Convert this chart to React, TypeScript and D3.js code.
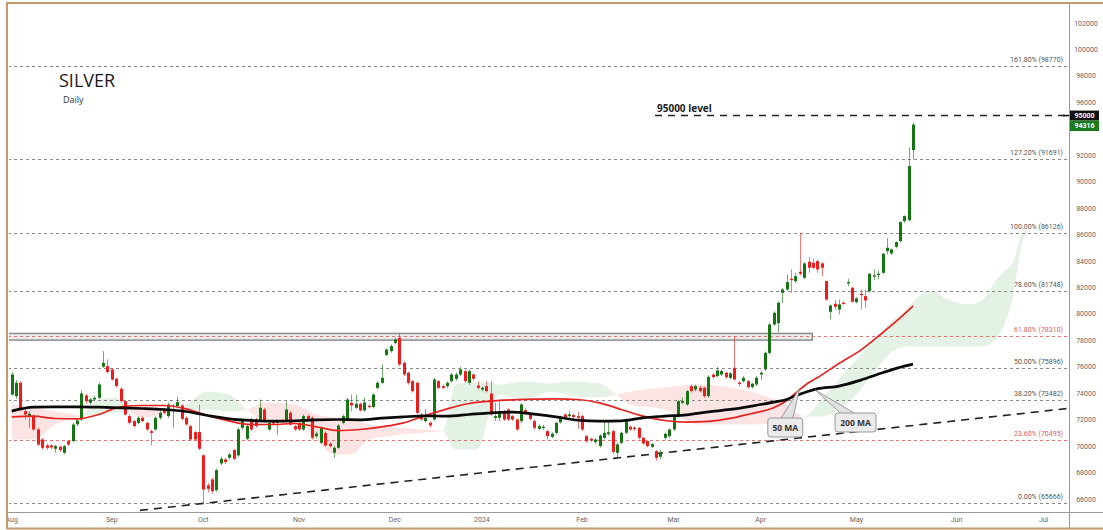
import React from "react";
import * as d3 from "d3";

const W = 1103;
const H = 530;

// ---------- OHLC (daily, MCX silver) ----------
const opens = [
73905,73780,74787,72640,72280,72270,71260,70500,70050,70050,69800,69950,69500,70380,70380,71650,72017,73830,73277,73530,
73650,76000,76050,75800,75090,74340,73400,72270,71890,71760,72140,71760,71130,71260,72140,72770,72270,72980,73020,73070,
72140,71510,71060,71060,69300,67030,67480,66670,68690,68990,69120,69700,69300,71390,70550,72017,72017,71890,72770,71260,
71810,71760,71940,71890,72520,71510,71760,71260,72270,72140,70750,70250,71000,70180,69500,69870,71760,72014,73275,72900,
73200,72700,73050,72950,74400,74790,76900,77180,77812,78190,76300,75544,74913,74787,72392,71888,71762,72014,74913,74535,
74535,74913,75090,75418,75670,74787,75418,74590,74283,74535,73980,72140,72140,72644,72770,72266,72014,71888,72720,72440,
71888,71310,71380,71132,70700,71006,71800,72392,72266,72350,72266,72266,70754,70550,70300,69997,70628,70900,71132,69493,
70249,71006,71460,71400,71384,70628,70375,69950,69619,69200,70628,70754,71258,72266,73275,73148,74535,74283,74409,74409,
73779,75418,75290,75418,75545,75165,75926,74800,74913,74913,74460,74661,75418,75800,77050,79200,79300,81597,81849,82655,
82479,83185,82731,83941,83866,83992,83815,82479,80160,80765,80336,80840,82302,81975,80891,81521,81344,81723,82857,82933,
83109,84748,84571,85076,85504,87017,87092,92386];
const highs = [
75600,75000,74900,72800,72640,72400,71400,70600,70200,70150,70100,70050,70100,70450,71750,72050,74200,73950,73650,73800,
74800,77180,76550,75900,75200,74450,73500,72400,72000,72250,72250,71850,71250,72250,72650,72900,73300,73200,73730,73200,
72250,71600,71150,73150,69400,67200,67600,68300,69200,69100,69500,69800,71400,72000,71650,72150,72150,73530,72900,71900,
71950,72000,72050,73400,72650,71600,71850,72400,72400,72250,71100,71500,71100,70300,70000,71650,72400,73650,73905,73900,
73300,73650,73150,74000,74900,76170,77400,77700,78190,78520,76400,75650,75000,74900,72500,72820,71850,75150,75000,74650,
74900,75550,75550,75990,75800,75800,75500,74900,74500,74900,74913,73275,73400,72750,72850,72350,72100,73250,72850,72550,
72000,71650,71600,71250,71050,71850,72300,72500,72644,72450,72600,72350,70850,70650,70600,70900,71900,71900,71250,70250,
71100,72100,71550,71500,71450,70700,70450,70250,69700,69700,71000,71350,72350,73500,73700,74250,74650,74650,74550,74500,
75350,75500,75990,75800,75650,75600,78317,74900,75300,75000,74800,75300,75670,77150,79300,80200,80950,81975,82984,83361,
83109,86134,83900,84294,84170,84100,83900,82500,80700,81040,81092,80950,82655,82050,81250,81849,81849,83100,83361,83235,
84600,85756,84950,85500,87000,87450,92590,94454];
const lows = [
73800,73600,72650,72017,71380,71150,70000,69750,69700,69750,69500,69550,69400,70000,70300,71500,71900,73200,73150,73400,
73550,75900,75500,74950,74450,73300,72300,71650,71400,71650,71800,71150,70050,71150,72000,72400,72150,71390,72900,71950,
71550,70400,70400,69700,65717,66500,66400,66550,68550,68650,69000,68950,69200,71250,70450,71150,71400,71800,71850,71150,
71600,70880,71750,71800,71550,71150,71150,71150,71900,70500,70600,70150,69950,69900,69115,69800,71650,71900,72644,72800,
72600,72600,72850,72850,74300,74700,76800,77050,77700,76050,75300,74650,74050,72400,71900,71800,71400,71900,74300,74300,
74400,74800,74950,75300,74800,74650,74950,74300,74150,74050,72300,71900,71888,71900,71900,71900,71150,71750,72400,71950,
71250,71200,71250,70500,70600,70900,71700,72100,72150,72100,71300,71150,70250,70300,70150,69900,70500,70800,69400,69115,
70150,70900,71150,71150,70500,70100,69900,69850,68900,69000,70500,70650,71150,72150,73150,73050,74050,74150,74050,73650,
73650,75100,75200,75300,75100,75050,74950,74500,74800,74350,74350,74550,75000,75700,76950,79100,78600,80840,81750,81597,
82350,82900,82650,83109,83400,83109,82857,81000,79580,80336,79958,80700,82100,80850,80800,80336,80462,81600,82555,82605,
83000,84496,84450,84950,85400,86900,87000,91681];
const closes = [
75418,74787,72770,72390,72450,71260,70123,69870,69870,69900,70000,69700,70000,70125,71636,71940,73980,73400,73530,73650,
74660,76300,75600,75040,74540,73400,72390,71760,71510,72140,71890,71260,71000,72140,72520,72520,73150,73050,73330,72060,
71640,70500,70500,69800,66720,66770,66600,68180,69040,68790,69370,69040,71260,71890,71510,71260,71510,72900,71960,71760,
71710,71890,71840,72770,71640,71260,71260,72270,72017,70630,70950,71390,70050,70000,69870,71560,72266,73527,73075,73200,
72700,73300,72950,73900,74790,75170,77300,77560,78064,76174,75418,74787,74157,72518,72014,72140,71560,75040,74409,74409,
74787,75418,75418,75795,74913,75670,75100,74409,74409,74157,72392,72266,72600,72014,72014,72014,71258,73148,72518,72060,
71384,71510,71460,70754,70930,71762,72190,72190,72392,72200,72140,71258,70375,70450,70500,70800,71006,71050,69560,70123,
71006,72040,71258,71280,70628,70200,69997,70150,69115,69550,70930,71258,72266,73400,73400,74157,74157,74535,74157,73779,
75240,75220,75720,75670,75220,75500,75040,74700,75165,74460,74710,75165,75545,77056,79200,80084,80840,81849,82403,82555,
82857,83034,83815,83488,83488,83361,83488,81092,80639,80538,80714,80765,82403,80916,81168,81420,81017,83034,82908,83034,
84546,85000,84874,85429,86941,87395,91176,94316];

// ---------- moving averages (bar index, value) ----------
const ma50Points: [number, number][] = [
[0,72216],[5,72266],[10,72090],[15,72065],[20,72392],[25,72972],[30,73073],[35,73073],[40,72820],[45,72316],
[50,71888],[55,71636],[60,71636],[65,71712],[70,71460],[75,71170],[80,71258],[85,71460],[90,71762],[95,72316],
[100,72820],[105,73224],[110,73400],[115,73500],[120,73552],[125,73577],[130,73527],[135,73275],[140,72770],[145,72266],
[150,71939],[155,71813],[160,71870],[165,72092],[170,72470],[175,72898],[178,73450],[180,74000],[183,74788],[185,75167],
[190,76251],[195,77259],[200,78574],[205,79982],[207,80600]];
const ma200Points: [number, number][] = [
[0,72644],[5,72947],[10,72972],[15,72972],[20,72947],[25,72896],[30,72846],[35,72770],[40,72619],[45,72316],
[50,72064],[55,71939],[60,71888],[65,71913],[70,71990],[75,72014],[80,71990],[85,72115],[90,72216],[95,72291],
[100,72266],[105,72392],[110,72518],[115,72569],[120,72417],[125,72216],[130,71964],[135,71888],[140,71913],[145,72140],
[150,72266],[155,72367],[160,72590],[165,72772],[170,73024],[175,73326],[178,73528],[180,73800],[183,74150],[185,74330],
[190,74540],[195,74990],[200,75544],[205,76048],[207,76200]];

// ---------- Ichimoku cloud ----------
const cloudIdx = [0,5,10,13,16,20,24,27,30,35,40,45,50,54,58,65,70,74,78,82,88,95,99,102,107,110,112,118,124,128,135,139,142,150,158,165,172,178,182,186,190,194,198,202,205,208,211,215,220,223,226,228,230,232,233];
const spanA = [70500,70500,71636,72014,72300,73526,73677,72650,72165,72467,73148,74131,73904,72770,72014,72014,70500,69366,69366,70500,70803,71030,71100,74661,74812,74812,74661,74888,74736,74888,74736,73900,73148,72770,71636,71636,71636,72014,72250,73526,75039,76552,77913,79426,80182,81241,81771,81090,80712,81090,82527,83208,83965,86007,86385];
const spanB = [73148,72921,72619,72467,72320,72392,72543,72620,72921,72770,72770,72770,72619,72750,73299,73148,72392,72165,72014,71636,71408,71257,71120,69744,69744,72770,73904,73526,74131,73829,73677,73920,74131,74434,74661,74434,73904,73148,72240,72241,72770,73904,75569,77081,77535,77535,77535,77535,77535,77535,78064,79199,81317,85250,86007];

// ---------- levels ----------
const fibPct = ["161.80%", "127.20%", "100.00%", "78.60%", "61.80%", "50.00%", "38.20%", "23.60%", "0.00%"];
const fibPrice = [98770, 91691, 86126, 81748, 78310, 75896, 73482, 70495, 65666];
const fibRed = [false, false, false, false, true, false, false, true, false];
const zoneLow = 78020;
const zoneHigh = 78520;
const level95 = 95000;
const lastPrice = 94316;
const trendA: [number, number] = [44, 65666];
const trendB: [number, number] = [148, 69427];

// 94000 is hidden behind the price tags in the reference
const yTickValues = [66000, 68000, 70000, 72000, 74000, 76000, 78000, 80000, 82000, 84000, 86000, 88000, 90000, 92000, 96000, 98000, 100000, 102000];
const xTickMonths = ["2023-08", "2023-09", "2023-10", "2023-11", "2023-12", "2024-01", "2024-02", "2024-03", "2024-04", "2024-05", "2024-06", "2024-07"];
const xTickLabels = ["Aug", "Sep", "Oct", "Nov", "Dec", "2024", "Feb", "Mar", "Apr", "May", "Jun", "Jul"];
const holidays = ["2023-12-25", "2024-03-29"];

function tradingDays(count: number): string[] {
  const out: string[] = [];
  const d = new Date(Date.UTC(2023, 7, 1));
  while (out.length < count) {
    const wd = d.getUTCDay();
    const key = d.toISOString().slice(0, 10);
    if (wd !== 0 && wd !== 6 && !holidays.includes(key)) out.push(key);
    d.setUTCDate(d.getUTCDate() + 1);
  }
  return out;
}

const FONT = "Roboto, 'Liberation Sans', Arial, sans-serif";
const GREEN = "#137613";
const RED = "#f01c1c";

export default function App() {
  const plotL = 8, plotR = 1069, plotT = 4, plotB = 512;
  const x = d3.scaleLinear().domain([0, 207]).range([11.7, 913]);
  const y = d3.scaleLinear().domain([66000, 102000]).range([499, 23]);

  const days = tradingDays(250);
  const xTicks = xTickMonths.map((m, k) => ({ label: xTickLabels[k], i: days.findIndex((d) => d.startsWith(m)) }));

  const cloudPts = cloudIdx.map((i, k) => ({ i, a: spanA[k], b: spanB[k] }));
  const greenArea = d3.area<any>().x((d) => x(d.i)).y0((d) => y(d.b)).y1((d) => y(Math.max(d.a, d.b))).curve(d3.curveMonotoneX);
  const redArea = d3.area<any>().x((d) => x(d.i)).y0((d) => y(d.a)).y1((d) => y(Math.max(d.a, d.b))).curve(d3.curveMonotoneX);

  const maLine = d3.line<[number, number]>().x((d) => x(d[0])).y((d) => y(d[1])).curve(d3.curveMonotoneX);

  const slope = (trendB[1] - trendA[1]) / (trendB[0] - trendA[0]);
  const tI0 = x.invert(140), tI1 = x.invert(plotR);
  const tp = (i: number) => trendA[1] + slope * (i - trendA[0]);

  const bodyW = 3;

  // annotation anchors (bar index, price)
  const a50 = { x: x(181), y: y(74400) };
  const a200 = { x: x(184.5), y: y(74250) };
  const b50Top = y(72127);
  const b200Top = y(72505);

  return (
    <svg width={W} height={H} style={{ position: "absolute", left: 0, top: 0, background: "#fff" }} fontFamily={FONT}>
      <defs>
        <clipPath id="plot">
          <rect x={plotL + 1} y={plotT + 1} width={plotR - plotL - 1} height={plotB - plotT - 1} />
        </clipPath>
      </defs>
      <rect x={0} y={0} width={W} height={H} fill="#fff" />
      <g clipPath="url(#plot)">
        {/* cloud */}
        <path d={greenArea(cloudPts) || ""} fill="#e3f2e4" />
        <path d={redArea(cloudPts) || ""} fill="#fce4e4" />

        {/* resistance zone */}
        <rect x={plotL} y={y(zoneHigh)} width={x(181) + 0.5 - plotL + 12} height={y(zoneLow) - y(zoneHigh)} fill="rgba(200,200,200,0.35)" stroke="#8c8c8c" strokeWidth={1.5} />

        {/* fib lines */}
        {fibPrice.map((p, k) => (
          <line key={"f" + k} x1={plotL} x2={plotR} y1={Math.round(y(p)) + 0.5} y2={Math.round(y(p)) + 0.5}
            stroke={fibRed[k] ? "#e57373" : "#8a8a8a"} strokeWidth={1} strokeDasharray="3,3" />
        ))}

        {/* 95000 level */}
        <line x1={655} x2={plotR} y1={y(level95)} y2={y(level95)} stroke="#222" strokeWidth={1.5} strokeDasharray="7,6" />

        {/* trendline */}
        <line x1={x(tI0)} y1={y(tp(tI0))} x2={x(tI1)} y2={y(tp(tI1))} stroke="#222" strokeWidth={1.6} strokeDasharray="8,6" />

        {/* candles */}
        {closes.map((c, i) => {
          const o = opens[i];
          const up = c >= o;
          const col = up ? GREEN : RED;
          const cx = Math.round(x(i));
          const top = y(Math.max(o, c));
          const bot = y(Math.min(o, c));
          return (
            <g key={"c" + i}>
              <rect x={cx} y={y(highs[i])} width={1} height={Math.max(1, y(lows[i]) - y(highs[i]))} fill={col} opacity={0.6} />
              <rect x={cx - 1} y={top} width={bodyW} height={Math.max(1.2, bot - top)} fill={col} />
            </g>
          );
        })}

        {/* moving averages */}
        <path d={maLine(ma50Points) || ""} fill="none" stroke="#e8221e" strokeWidth={1.7} />
        <path d={maLine(ma200Points) || ""} fill="none" stroke="#0a0a0a" strokeWidth={2.7} />
      </g>

      {/* fib labels */}
      {fibPrice.map((p, k) => (
        <text key={"fl" + k} x={1063} y={y(p) - 4} textAnchor="end" fontSize={7} fill={fibRed[k] ? "#e06060" : "#555"}>
          {fibPct[k]} ({p})
        </text>
      ))}

      {/* 95000 level label */}
      <text x={657} y={112} fontSize={10} fontWeight={700} fill="#222" fontFamily="'Open Sans', sans-serif">95000 level</text>

      {/* MA callouts */}
      <polygon points={`${a50.x},${a50.y} ${a50.x - 19},${b50Top + 0.5} ${a50.x - 7},${b50Top + 0.5}`} fill="#e2e2e2" stroke="#888" strokeWidth={0.8} />
      <rect x={a50.x - 32} y={b50Top} width={35} height={19} rx={3} fill="#ebebeb" stroke="#999" strokeWidth={1} />
      <text x={a50.x - 14.5} y={b50Top + 13} textAnchor="middle" fontSize={8.5} fontWeight={700} fill="#333" fontFamily="'Open Sans', sans-serif">50 MA</text>

      <polygon points={`${a200.x},${a200.y} ${a200.x + 26},${b200Top + 0.5} ${a200.x + 40},${b200Top + 0.5}`} fill="#e2e2e2" stroke="#888" strokeWidth={0.8} />
      <rect x={a200.x + 20} y={b200Top} width={41} height={19} rx={3} fill="#ebebeb" stroke="#999" strokeWidth={1} />
      <text x={a200.x + 40.5} y={b200Top + 13} textAnchor="middle" fontSize={8.5} fontWeight={700} fill="#333" fontFamily="'Open Sans', sans-serif">200 MA</text>

      {/* title */}
      <text x={59} y={87} fontSize={18} fill="#1a1a1a" fontFamily="'Open Sans', sans-serif">SILVER</text>
      <text x={63} y={103} fontSize={9} fill="#333" fontFamily="'Open Sans', sans-serif">Daily</text>

      {/* axes lines */}
      <line x1={plotL} x2={W} y1={plotB + 0.5} y2={plotB + 0.5} stroke="#999" strokeWidth={1} />
      <line x1={plotR + 0.5} x2={plotR + 0.5} y1={plotT} y2={H - 2} stroke="#999" strokeWidth={1} />

      {/* y ticks */}
      {yTickValues.map((v) => (
        <text key={"y" + v} x={1086} y={y(v) + 2.5} textAnchor="middle" fontSize={7} fill="#666">{v}</text>
      ))}

      {/* price tags */}
      <line x1={1063} x2={plotR} y1={y(level95)} y2={y(level95)} stroke="#000" strokeWidth={1.5} />
      <rect x={1070} y={y(level95) - 5} width={29} height={10} fill="#111" />
      <text x={1084.5} y={y(level95) + 2.5} textAnchor="middle" fontSize={7} fontWeight={700} fill="#fff">{level95}</text>
      <rect x={1070} y={y(level95) + 5} width={29} height={10.5} fill="#1b7a1b" />
      <text x={1084.5} y={y(level95) + 12.8} textAnchor="middle" fontSize={7} fontWeight={700} fill="#fff">{lastPrice}</text>

      {/* x ticks */}
      {xTicks.map((t) => (
        <text key={t.label} x={x(t.i)} y={522} textAnchor="middle" fontSize={7} fill="#666">{t.label}</text>
      ))}

      {/* frame */}
      <line x1={7} x2={W} y1={3} y2={3} stroke="#c49a6c" strokeWidth={2} />
      <line x1={7} x2={7} y1={2} y2={529} stroke="#c49a6c" strokeWidth={2} />
      <line x1={7} x2={W} y1={528.5} y2={528.5} stroke="#c49a6c" strokeWidth={2} />
    </svg>
  );
}
